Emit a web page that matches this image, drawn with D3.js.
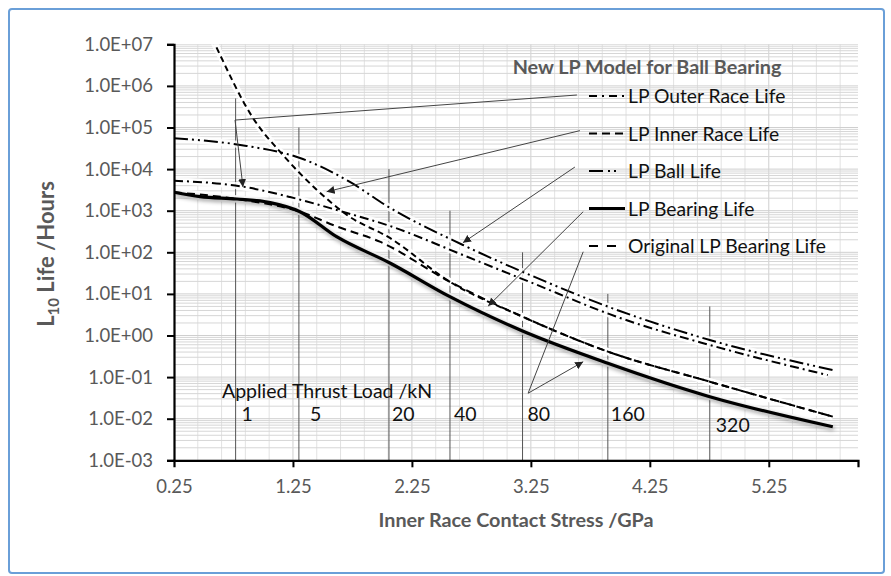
<!DOCTYPE html>
<html>
<head>
<meta charset="utf-8">
<style>
  body { margin: 0; background: #fff; }
  svg text { font-family: Lato, "Open Sans", sans-serif; }
</style>
</head>
<body>
<script src="https://d3js.org/d3.v7.min.js"></script>
<script>
// ---- data (stress in GPa, L10 life in hours) ----
const xTicks = [0.25, 1.25, 2.25, 3.25, 4.25, 5.25];
const yDecades = [-3, -2, -1, 0, 1, 2, 3, 4, 5, 6, 7];

const outerRaceLife = [[0.25, 5260], [0.83, 3780], [1.225, 2130], [1.704, 881], [2.065, 429],
  [2.679, 86], [3.242, 19.3], [4.0, 2.64], [4.754, 0.59], [5.746, 0.112]];
const innerRaceLife = [[0.5, 3.8e7], [0.595, 1e7], [0.914, 1.69e5], [1.166, 2.18e4], [1.452, 3150],
  [1.704, 789], [2.065, 221], [2.569, 19.6], [3.18, 2.83], [3.897, 0.41], [4.754, 0.0776], [5.788, 0.0112]];
const ballLife = [[0.25, 5.5e4], [0.861, 3.6e4], [1.309, 1.85e4], [1.729, 4900], [2.04, 1297],
  [2.679, 150], [3.242, 28.5], [3.998, 3.88], [4.754, 0.78], [5.788, 0.148]];
const bearingLife = [[0.25, 2770], [0.47, 2170], [0.777, 1910], [1.059, 1560], [1.309, 946],
  [1.617, 237], [2.065, 55.3], [2.569, 8.57], [3.18, 1.28], [3.897, 0.215], [4.754, 0.0338], [5.788, 0.0064]];
const originalLife = [[0.25, 2770], [0.777, 1910], [1.309, 946], [1.617, 420], [1.98, 180],
  [2.569, 19.6], [3.18, 2.83], [3.897, 0.41], [4.754, 0.0776], [5.788, 0.0112]];

const thrustLoads = ["1", "5", "20", "40", "80", "160", "320"];
const thrustStress = [0.768, 1.30, 2.057, 2.57, 3.18, 3.897, 4.754];
const thrustTop = [5e5, 1e5, 1e4, 1e3, 1e2, 1e1, 5];

// leader lines from legend entries to curves (GPa, hours); last point gets the arrow
const leaders = [
  {pts: [[3.637, 6.04e5], [0.763, 1.51e5], [0.83, 3700]], arrow: true},
  {pts: [[3.662, 8.4e4], [1.533, 2860]], arrow: true},
  {pts: [[3.62, 1.12e4], [2.679, 170]], arrow: true},
  {pts: [[3.69, 946], [2.891, 5.1]], arrow: true},
  {pts: [[3.69, 103], [3.227, 0.041]], arrow: false},
  {pts: [[3.227, 0.041], [3.69, 0.234]], arrow: true}
];

const W = 891, H = 576;
const x = d3.scaleLinear().domain([0.25, 6.0]).range([174, 858]);
const y = d3.scaleLog().domain([1e-3, 1e7]).range([460.3, 44.3]);

const svg = d3.select("body").append("svg").attr("width", W).attr("height", H);
const defs = svg.append("defs");

defs.append("clipPath").attr("id", "plot")
  .append("rect").attr("x", 174).attr("y", 44.3).attr("width", 684).attr("height", 416);

defs.append("filter").attr("id", "shadow")
  .attr("x", "-5%").attr("y", "-20%").attr("width", "110%").attr("height", "150%")
  .append("feDropShadow").attr("dx", 1).attr("dy", 2).attr("stdDeviation", 2)
  .attr("flood-color", "#000").attr("flood-opacity", 0.45);

defs.append("marker").attr("id", "arrow")
  .attr("viewBox", "0 0 10 10").attr("refX", 10).attr("refY", 5)
  .attr("markerWidth", 8).attr("markerHeight", 8).attr("markerUnits", "userSpaceOnUse")
  .attr("orient", "auto")
  .append("path").attr("d", "M0,0 L10,5 L0,10 Z").attr("fill", "#222");

// outer border
svg.append("rect").attr("x", 9).attr("y", 9).attr("width", 875).attr("height", 564)
  .attr("rx", 3).attr("fill", "#fff").attr("stroke", "#6a9fd8").attr("stroke-width", 2);

// ---- gridlines ----
const grid = svg.append("g").attr("clip-path", "url(#plot)");
const minorX = d3.range(0.45, 6.0, 0.2).filter(v => Math.abs((v - 0.25) % 1) > 0.01 && Math.abs((v - 0.25) % 1 - 1) > 0.01);
grid.selectAll(".vminor").data(minorX).enter().append("line")
  .attr("x1", d => x(d)).attr("x2", d => x(d)).attr("y1", 44.3).attr("y2", 460.3)
  .attr("stroke", "#e2e2e2").attr("stroke-width", 1);
grid.selectAll(".vmajor").data(xTicks.slice(1)).enter().append("line")
  .attr("x1", d => x(d)).attr("x2", d => x(d)).attr("y1", 44.3).attr("y2", 460.3)
  .attr("stroke", "#cfcfcf").attr("stroke-width", 1);

const minorY = [];
yDecades.slice(0, -1).forEach(e => { for (let k = 2; k <= 9; k++) minorY.push(k * Math.pow(10, e)); });
grid.selectAll(".hminor").data(minorY).enter().append("line")
  .attr("x1", 174).attr("x2", 858).attr("y1", d => y(d)).attr("y2", d => y(d))
  .attr("stroke", "#d6d6d6").attr("stroke-width", 1);
grid.selectAll(".hmajor").data(yDecades).enter().append("line")
  .attr("x1", 174).attr("x2", 858).attr("y1", d => y(Math.pow(10, d))).attr("y2", d => y(Math.pow(10, d)))
  .attr("stroke", "#cfcfcf").attr("stroke-width", 1);

// ---- thrust load lines ----
const marks = svg.append("g");
marks.selectAll(".thrust").data(thrustStress).enter().append("line")
  .attr("x1", d => x(d)).attr("x2", d => x(d))
  .attr("y1", (d, i) => y(thrustTop[i])).attr("y2", y(1e-3))
  .attr("stroke", "#555").attr("stroke-width", 1);

// ---- series ----
const line = d3.line().x(d => x(d[0])).y(d => y(d[1])).curve(d3.curveMonotoneX);
const series = [
  {data: originalLife, dash: "8,5", width: 2},
  {data: outerRaceLife, dash: "9,4,2,4", width: 2},
  {data: innerRaceLife, dash: "6,4", width: 2},
  {data: ballLife, dash: "14,4,2,4,2,4", width: 2},
  {data: bearingLife, dash: null, width: 3.2, shadow: true}
];
const sg = svg.append("g").attr("clip-path", "url(#plot)");
series.forEach(s => {
  sg.append("path").attr("d", line(s.data)).attr("fill", "none")
    .attr("stroke", "#fff").attr("stroke-opacity", 0.85).attr("stroke-width", 7);
});
series.forEach(s => {
  sg.append("path").attr("d", line(s.data)).attr("fill", "none")
    .attr("stroke", "#000").attr("stroke-width", s.width)
    .attr("stroke-dasharray", s.dash)
    .attr("filter", s.shadow ? "url(#shadow)" : null);
});

// ---- leaders ----
leaders.forEach(l => {
  svg.append("path")
    .attr("d", d3.line().x(d => x(d[0])).y(d => y(d[1]))(l.pts))
    .attr("fill", "none").attr("stroke", "#444").attr("stroke-width", 1)
    .attr("marker-end", l.arrow ? "url(#arrow)" : null);
});

// ---- axes ----
const fmt = e => "1.0E" + (e < 0 ? "-" : "+") + String(Math.abs(e)).padStart(2, "0");
const yAxis = svg.append("g").attr("transform", "translate(174,0)")
  .call(d3.axisLeft(y).tickValues(yDecades.map(e => Math.pow(10, e))).tickSize(7).tickPadding(14)
    .tickFormat(d => fmt(Math.round(Math.log10(d)))));
const xAxis = svg.append("g").attr("transform", "translate(0,460.3)")
  .call(d3.axisBottom(x).tickValues(xTicks).tickSize(7).tickPadding(13).tickFormat(d3.format(".2f")));
[yAxis, xAxis].forEach(a => {
  a.select(".domain").attr("stroke", "#000").attr("stroke-width", 2.2);
  a.selectAll(".tick line").attr("stroke", "#000").attr("stroke-width", 2);
  a.selectAll(".tick text").attr("fill", "#595959").style("font-size", "18.5px")
    .style("font-family", "Lato, 'Open Sans', sans-serif");
});
xAxis.select(".tick line").remove();

// axis titles
svg.append("text").attr("x", 516).attr("y", 527).attr("text-anchor", "middle")
  .attr("fill", "#595959").style("font-size", "19.8px").style("font-weight", "bold")
  .text("Inner Race Contact Stress /GPa");
const yt = svg.append("text").attr("transform", "translate(54,254) rotate(-90)")
  .attr("text-anchor", "middle").attr("fill", "#595959")
  .style("font-size", "22px").style("font-weight", "bold");
yt.append("tspan").text("L");
yt.append("tspan").attr("dy", 5).style("font-size", "15px").text("10");
yt.append("tspan").attr("dy", -5).text(" Life /Hours");

// ---- thrust load labels ----
svg.append("text").attr("x", 222).attr("y", 398).attr("fill", "#111").style("font-size", "19.5px")
  .text("Applied Thrust Load /kN");
const labelOffset = [6, 11, 3, 4, 5, 3, 6];
svg.selectAll(".tl").data(thrustLoads).enter().append("text")
  .attr("x", (d, i) => x(thrustStress[i]) + labelOffset[i])
  .attr("y", (d, i) => i === 6 ? 432 : 421)
  .attr("fill", "#111").style("font-size", "19.5px").text(d => d);

// ---- legend ----
svg.append("text").attr("x", 647).attr("y", 74).attr("text-anchor", "middle")
  .attr("fill", "#595959").style("font-size", "19.8px").style("font-weight", "bold")
  .text("New LP Model for Ball Bearing");
const legendNames = ["LP Outer Race Life", "LP Inner Race Life", "LP Ball Life", "LP Bearing Life", "Original LP Bearing Life"];
const legendDash = ["8,5,2,5", "8,5", "14,5,2,4,2,9", null, "9,9"];
const legendWidth = [2, 2, 2, 3.2, 2];
legendNames.forEach((name, i) => {
  const ly = 96 + i * 37.5;
  svg.append("line").attr("x1", 589).attr("x2", 625).attr("y1", ly).attr("y2", ly)
    .attr("stroke", "#000").attr("stroke-width", legendWidth[i]).attr("stroke-dasharray", legendDash[i]);
  svg.append("text").attr("x", 628).attr("y", ly + 7).attr("fill", "#111").style("font-size", "19.3px").text(name);
});
</script>
</body>
</html>
